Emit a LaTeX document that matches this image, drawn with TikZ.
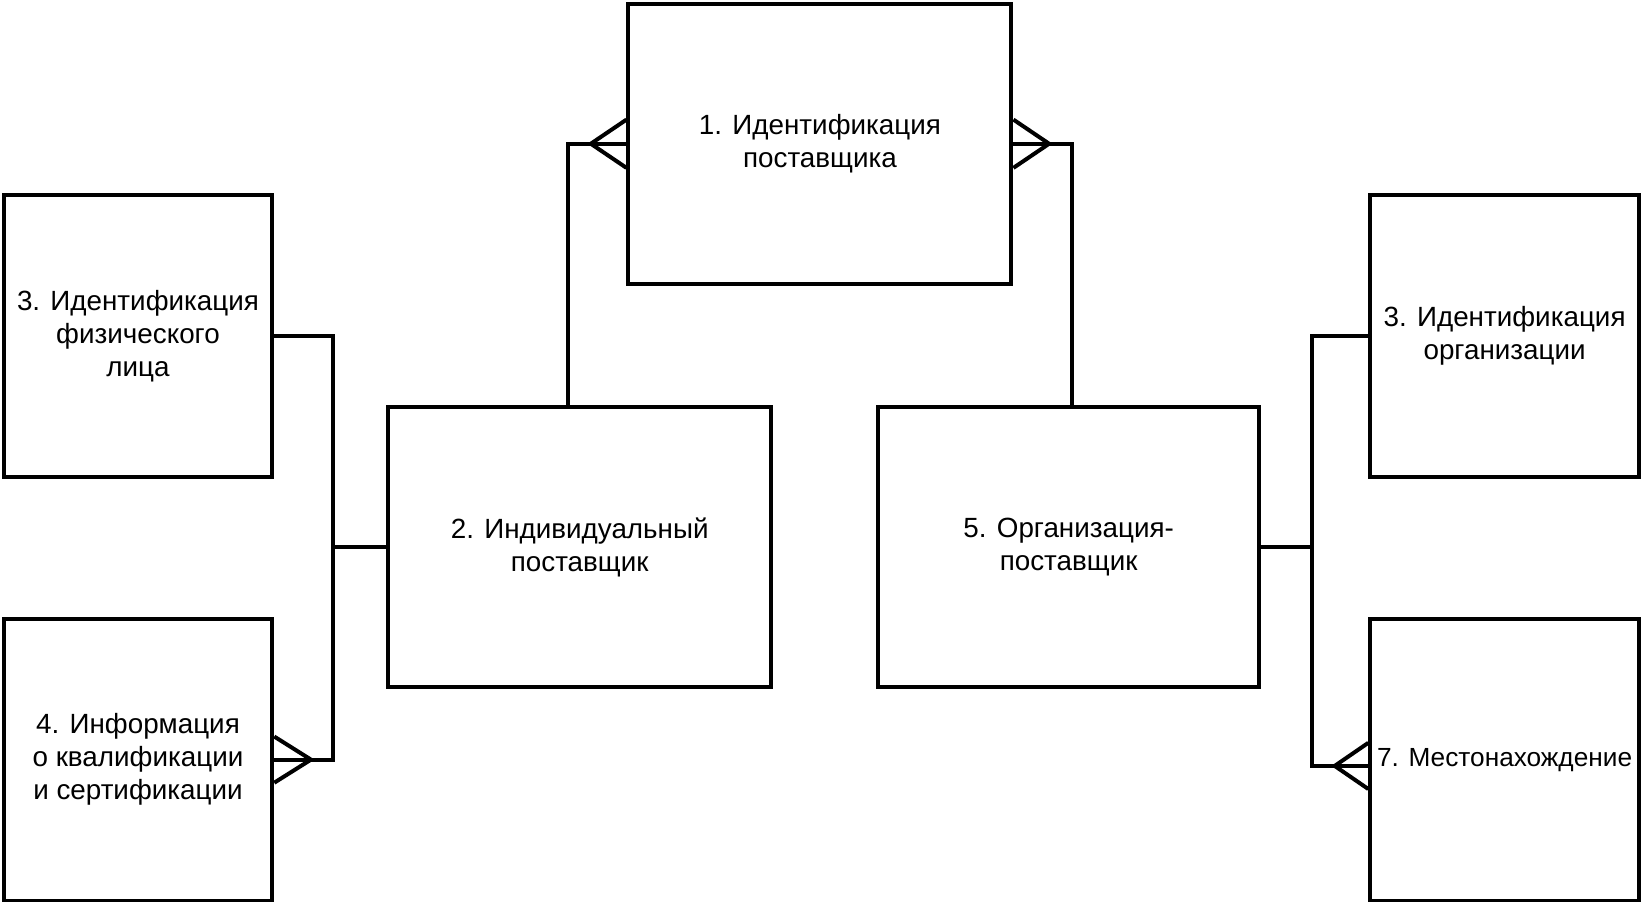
\documentclass[tikz,border=0pt]{standalone}
\usepackage{fontspec}
\setmainfont{Liberation Sans}
\usetikzlibrary{calc}
\begin{document}
\begin{tikzpicture}[x=1pt,y=-1pt,
  box/.style={draw, line width=3.8pt, rectangle, align=center, inner sep=0pt,
    font=\fontsize{26.5}{31.5}\selectfont},
  bigbox/.style={box, minimum width=365pt, minimum height=267pt},
  sidebox/.style={box, minimum width=256pt, minimum height=269pt},
  link/.style={line width=3.8pt}]
\useasboundingbox (0,0) rectangle (1565,859);
\node[bigbox] (b1) at (781.5,137) {1. Идентификация\\поставщика};
\node[bigbox] (b2) at (552.5,521.5) {2. Индивидуальный\\поставщик};
\node[bigbox, minimum width=363pt] (b5) at (1018.5,521.5) {5. Организация-\\поставщик};
\node[sidebox] (b3l) at (131.5,320.5) {3. Идентификация\\физического\\лица};
\node[sidebox] (b4l) at (131.5,724) {4. Информация\\о квалификации\\и сертификации};
\node[sidebox] (b3r) at (1434,320.5) {3. Идентификация\\организации};
\node[sidebox, font=\fontsize{25}{31.5}\selectfont] (b7) at (1434,724) {7. Местонахождение};
% top connectors
\coordinate (t2) at ($(b2.north)+(-11.5,0)$);
\coordinate (t5) at ($(b5.north)+(3.5,0)$);
\draw[link] (t2) |- (b1.west);
\draw[link] (t5) |- (b1.east);
\draw[link] (b1.west |- 0,114) -- ($(b1.west)+(-34,0)$) -- (b1.west |- 0,160);
\draw[link] (b1.east |- 0,114) -- ($(b1.east)+(34,0)$) -- (b1.east |- 0,160);
% left connectors
\coordinate (jl) at ($(b2.west)+(-51,0)$);
\draw[link] (b2.west) -- (jl);
\draw[link] (b3l.east) -| (jl) |- (b4l.east);
\draw[link] ($(b4l.east)+(0,-22)$) -- ($(b4l.east)+(35,0)$) -- ($(b4l.east)+(0,22)$);
% right connectors
\coordinate (jr) at ($(b5.east)+(49,0)$);
\coordinate (e7) at ($(b7.west)+(0,6)$);
\draw[link] (b5.east) -- (jr);
\draw[link] (b3r.west) -| (jr) |- (e7);
\draw[link] ($(e7)+(0,-22)$) -- ($(e7)+(-32,0)$) -- ($(e7)+(0,22)$);
\end{tikzpicture}
\end{document}
